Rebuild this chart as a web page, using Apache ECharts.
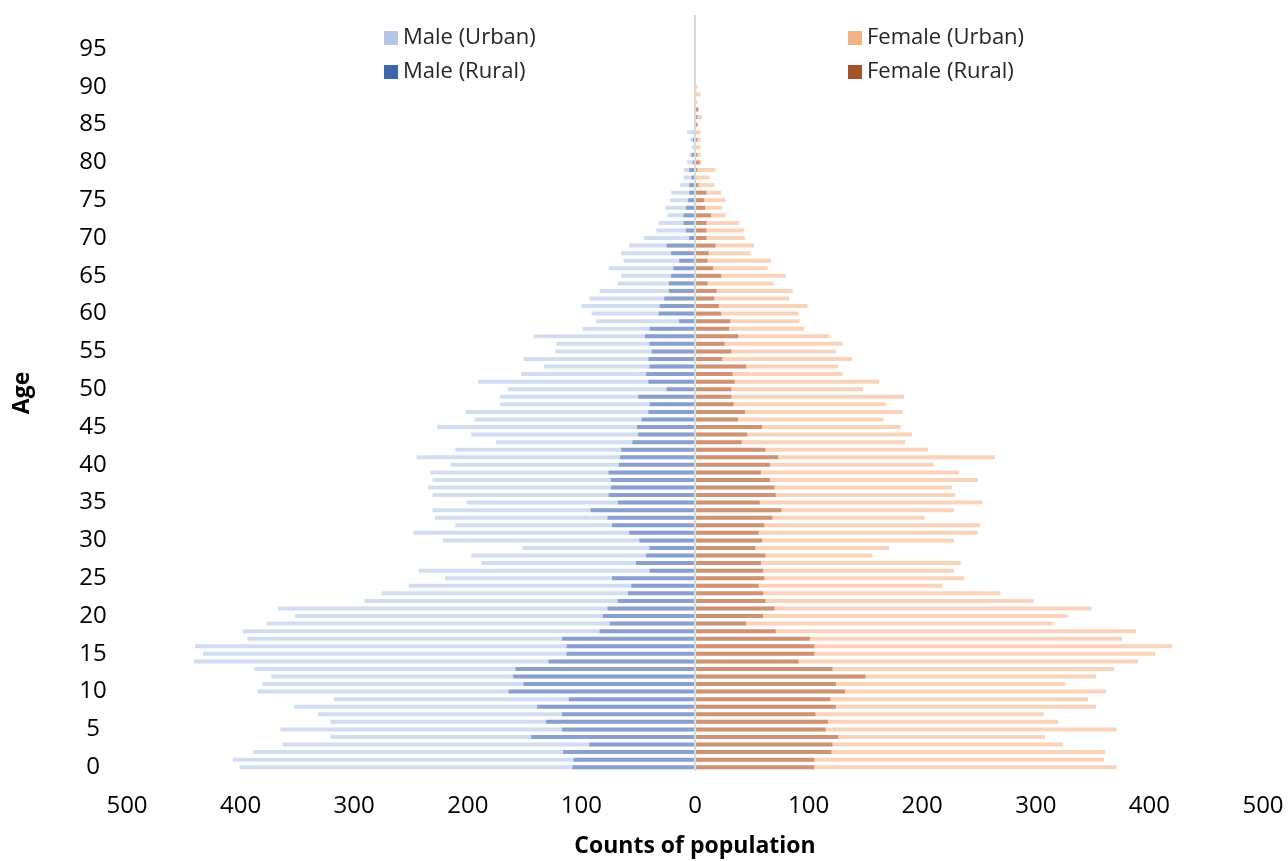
<!DOCTYPE html>
<html><head><meta charset="utf-8">
<script src="https://cdn.jsdelivr.net/npm/echarts@6/dist/echarts.min.js"></script>
<style>html,body{margin:0;padding:0;background:#fff}#c{width:1288px;height:861px}</style>
</head><body><div id="c"></div><script>
const ages = [0,1,2,3,4,5,6,7,8,9,10,11,12,13,14,15,16,17,18,19,20,21,22,23,24,25,26,27,28,29,30,31,32,33,34,35,36,37,38,39,40,41,42,43,44,45,46,47,48,49,50,51,52,53,54,55,56,57,58,59,60,61,62,63,64,65,66,67,68,69,70,71,72,73,74,75,76,77,78,79,80,81,82,83,84,85,86,87,88,89,90,91,92,93,94,95,96,97,98,99];
const maleUrban = [401,407,389,363,321,365,321,332,353,318,385,381,373,388,441,433,440,394,398,377,352,367,291,276,252,220,243,188,197,152,222,248,211,229,231,201,231,235,231,233,215,245,211,175,197,227,194,202,172,172,165,191,153,133,151,123,122,142,99,87,91,100,93,84,68,65,76,63,65,58,45,34,32,24,26,22,21,13,10,10,7,5,3,4,7,1,1,0,1,0,0,0,1,0,0,0,0,0,0,0];
const maleRural = [108,107,116,93,144,117,131,117,139,111,164,151,160,158,129,113,113,117,84,75,81,77,68,59,56,73,40,52,43,40,49,58,73,77,92,68,76,74,74,76,67,66,65,55,50,51,47,41,40,50,25,41,43,40,41,38,40,44,40,14,32,31,27,23,23,21,19,14,21,25,5,8,10,10,8,6,5,5,3,5,2,3,0,2,1,0,0,0,0,0,0,0,0,0,0,0,0,0,0,0];
const femaleUrban = [371,360,361,324,308,371,320,307,353,346,362,326,353,369,390,405,420,376,388,315,328,349,298,269,218,237,228,234,156,171,228,249,251,202,228,253,229,226,249,232,210,264,205,185,191,181,166,183,168,184,148,162,130,126,138,124,130,118,96,92,91,99,83,86,69,80,64,67,49,52,44,43,39,27,24,27,23,17,13,18,6,5,5,5,5,3,6,3,2,5,2,1,0,0,1,1,0,0,0,0];
const femaleRural = [105,105,120,121,126,115,117,106,124,119,132,124,150,121,91,105,105,101,71,45,60,70,62,60,56,61,60,58,62,53,59,56,61,68,76,57,71,70,66,58,66,73,62,41,46,59,38,44,34,32,32,35,33,45,24,32,26,38,30,31,23,21,17,19,11,23,16,11,12,18,10,10,10,14,9,8,10,3,1,2,4,2,1,2,1,2,2,3,0,1,0,0,0,0,0,0,0,0,0,0];
const seriesNames = ['Male (Urban)','Male (Rural)','Female (Urban)','Female (Rural)'];
const legendColors = ['#b4c7e7','#3f64ae','#f4b183','#a5522a'];
const barColors = ['rgba(180,199,231,0.6)','rgba(63,100,174,0.5)','rgba(244,177,131,0.55)','rgba(165,82,42,0.5)'];

const FONT = '"Open Sans", Lato, sans-serif';
const chart = echarts.init(document.getElementById('c'), null, {renderer:'canvas'});
const neg = a => a.map(v => -v);
const datas = [neg(maleUrban), neg(maleRural), femaleUrban, femaleRural];
const series = seriesNames.map((n,i) => ({
  name: n, type: 'bar', data: datas[i], barWidth: 4, barGap: '-100%',
  itemStyle: {color: barColors[i]}, z: (i % 2 === 0) ? 2 : 3,
  animation: false
}));
series[0].markLine = {
  silent: true, symbol: ['none','none'], label: {show:false},
  lineStyle: {color:'#d9d9d9', width:2, type:'solid'},
  data: [{xAxis: 0}], animation: false
};
const legendText = {fontFamily: FONT, fontSize: 22, lineHeight: 22, color: '#262626'};
chart.setOption({
  animation: false,
  grid: {left: 127, right: 25, top: 15, bottom: 90, containLabel: false, outerBoundsMode: 'none'},
  legend: [
    {orient:'vertical', left: 379, top: 22, itemWidth: 14, itemHeight: 14, itemGap: 12,
     textStyle: legendText, icon: 'rect',
     data: [{name: seriesNames[0], itemStyle:{color: legendColors[0], opacity:1}},
            {name: seriesNames[1], itemStyle:{color: legendColors[1], opacity:1}}]},
    {orient:'vertical', left: 843, top: 22, itemWidth: 14, itemHeight: 14, itemGap: 12,
     textStyle: legendText, icon: 'rect',
     data: [{name: seriesNames[2], itemStyle:{color: legendColors[2], opacity:1}},
            {name: seriesNames[3], itemStyle:{color: legendColors[3], opacity:1}}]}
  ],
  xAxis: {
    type: 'value', min: -500, max: 500, interval: 100,
    axisLine: {show:false}, axisTick: {show:false}, splitLine: {show:false},
    axisLabel: {formatter: v => Math.abs(v), fontFamily: FONT, fontSize: 24, color: '#000', margin: 23},
    name: 'Counts of population', nameLocation: 'middle', nameGap: 64,
    nameTextStyle: {fontFamily: FONT, fontSize: 23, fontWeight: 'bold', color: '#000'}
  },
  yAxis: {
    type: 'category', data: ages,
    axisLine: {show:false}, axisTick: {show:false}, splitLine: {show:false},
    axisLabel: {interval: 4, fontFamily: FONT, fontSize: 24, color: '#000', margin: 34, align: 'center'},
    name: 'Age', nameLocation: 'middle', nameGap: 93, nameRotate: 90,
    nameTextStyle: {fontFamily: FONT, fontSize: 23, fontWeight: 'bold', color: '#000'}
  },
  series: series
});
</script></body></html>
